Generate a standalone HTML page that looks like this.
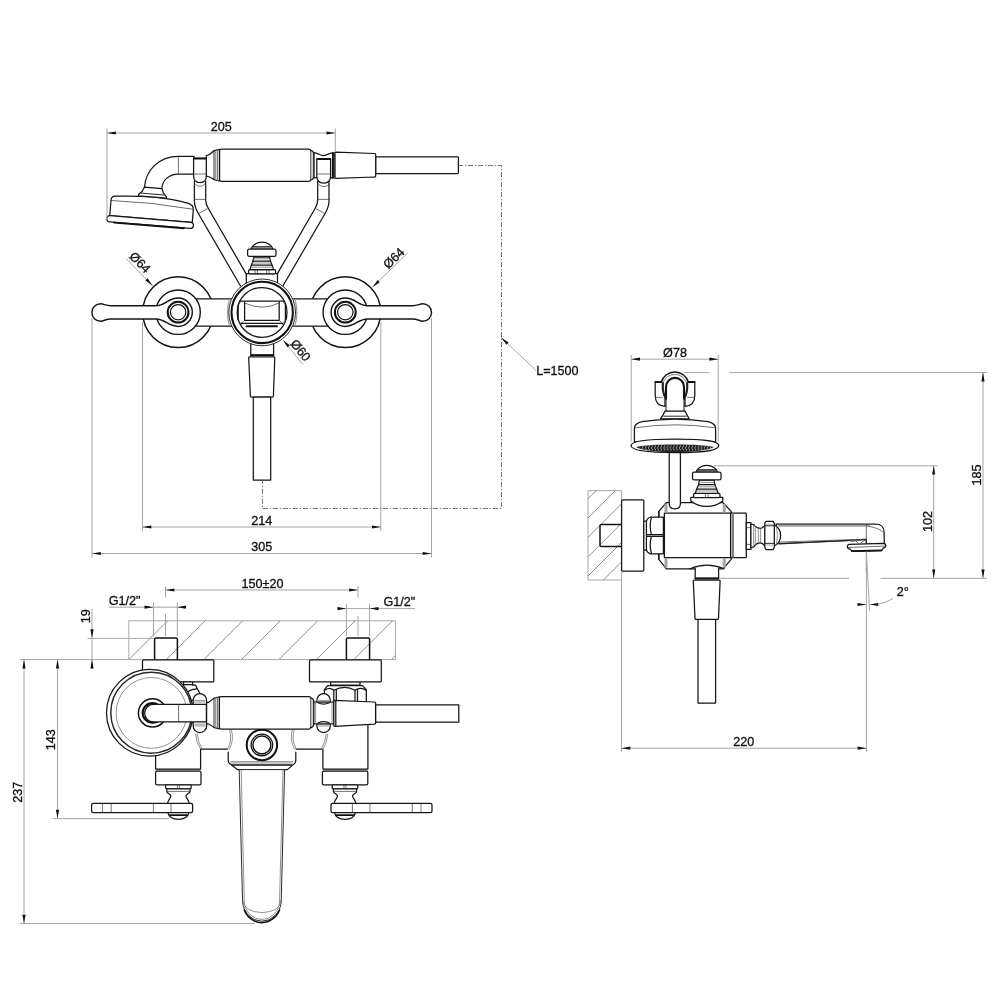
<!DOCTYPE html>
<html lang="en">
<head>
<meta charset="utf-8">
<title>Bath shower mixer - dimensional drawing</title>
<style>
html,body{margin:0;padding:0;background:#fff;}
body{width:1000px;height:1000px;overflow:hidden;font-family:"Liberation Sans",sans-serif;}
svg{display:block;position:absolute;left:0;top:0;will-change:transform;opacity:0.999;}
.k{fill:none;stroke:#151515;stroke-width:1.25;stroke-linejoin:round;stroke-linecap:round;}
.kw{fill:#fff;stroke:#151515;stroke-width:1.25;stroke-linejoin:round;stroke-linecap:round;}
.b{fill:none;stroke:#111;stroke-width:1.8;stroke-linejoin:round;stroke-linecap:round;}
.bw{fill:#fff;stroke:#111;stroke-width:1.8;stroke-linejoin:round;stroke-linecap:round;}
.t{fill:none;stroke:#333;stroke-width:0.7;stroke-linecap:round;}
.s{fill:none;stroke:#777;stroke-width:0.8;}
.g{fill:none;stroke:#a6a6a6;stroke-width:1;}
.h{fill:none;stroke:#727272;stroke-width:0.8;}
.hw{fill:none;stroke:#a8a8a8;stroke-width:1;}
.d{fill:none;stroke:#777;stroke-width:1;stroke-dasharray:5.2 1.7 1.4 1.7;}
.a{fill:#111;stroke:none;}
.w{fill:#fff;stroke:none;}
text{font-family:"Liberation Sans",sans-serif;font-size:12.6px;fill:#111;stroke:#111;stroke-width:0.32;}
</style>
</head>
<body>
<svg width="1000" height="1000" viewBox="0 0 1000 1000">
<rect class="w" x="0" y="0" width="1000" height="1000"/>
<!-- 10_viewA.svg -->
<g id="viewA">
 <!-- bracket arms (behind everything) -->
 <g id="armL">
  <path class="w" d="M194.4,181 V200.5 C194.4,206 196,209.5 198.2,213.2 L240.5,286 L247,276 L208.6,209 C206.6,205.6 205.7,203.6 205.7,200.5 V181 Z"/>
  <path class="k" d="M194.4,181 V200.5 C194.4,206 196,209.5 198.2,213.2 L240.5,286 M246.6,274.6 L208.6,209 C206.6,205.6 205.7,203.6 205.7,200.5 V181"/>
  <path class="t" d="M194.4,199.4 H205.7 M199.2,213.2 L207.2,208.8"/>
 </g>
 <g id="armR" transform="translate(523.4,0) scale(-1,1)">
  <path class="w" d="M194.4,181 V200.5 C194.4,206 196,209.5 198.2,213.2 L240.5,286 L247,276 L208.6,209 C206.6,205.6 205.7,203.6 205.7,200.5 V181 Z"/>
  <path class="k" d="M194.4,181 V200.5 C194.4,206 196,209.5 198.2,213.2 L240.5,286 M246.6,274.6 L208.6,209 C206.6,205.6 205.7,203.6 205.7,200.5 V181"/>
  <path class="t" d="M194.4,199.4 H205.7 M199.2,213.2 L207.2,208.8"/>
 </g>
 <!-- handset: hose, nut, handle, elbow -->
 <rect class="kw" x="375.6" y="156.8" width="82.8" height="16.8" rx="0.8"/>
 <path class="kw" d="M313.8,152.6 C318,152.8 320,155.6 323.2,155.6 C326.4,155.6 328.5,153.2 332.6,152.8 V177.8 C328.5,177.4 326.4,176 323.2,176 C320,176 318,177.8 313.8,178 Z"/>
 <path class="kw" d="M335.8,152.2 L374.6,153.5 Q375.7,153.6 375.7,154.6 V176 Q375.7,177 374.6,177 L335.8,178.3 Q335,178.3 335,177.4 V153.1 Q335,152.2 335.8,152.2 Z"/>
 <path class="k" d="M332.6,152.6 V178 M333.9,152.4 V178.2"/>
 <path class="kw" d="M206.3,155.6 C210.5,155.4 211.6,151.8 214.4,150.6 L219.5,149.3 V181 L214.4,179.8 C211.6,178.6 210.5,176.4 206.3,176.2 Z"/>
 <path class="k" d="M214,151 V179.6" style="stroke-width:0.9"/>
 <path class="s" d="M215.8,150.4 V180.2 M217.5,150 V180.6" style="stroke-width:1"/>
 <rect class="kw" x="219.6" y="149" width="91" height="32.3" rx="1.8" ry="1.8"/>
 <path class="kw" d="M310.6,150.4 Q313.8,151 313.8,154 V176.4 Q313.8,179.4 310.6,180"/>
 <path class="s" d="M311.9,151.2 V179.2"/>
 <!-- elbow -->
 <path class="kw" d="M144.4,188 C145.5,170 159,156.3 178.4,156.3 H194 V174 H178.4 C169,174 162.4,180 161.8,188.8 Z"/>
 <path class="t" d="M178.4,156.3 V174"/>
 <!-- shower head (tilted) -->
 <g transform="translate(153.2,187.5) rotate(4.7)">
  <path class="kw" d="M-37.2,11.8 Q-14,9.6 0,9.4 Q22,10 36.4,13 Q41.8,14.4 41.8,19 V31.6 H-41 V16.4 Q-41,12.2 -37.2,11.8 Z"/>
  <path class="t" d="M-41,16.4 Q0,14.6 41.8,18.4"/>
  <path class="kw" d="M-8.8,0.4 L-10.6,4.6 L-14,8.2 V9.5 H14 V8.2 L10.6,4.6 L8.8,0.4 Z"/>
  <path class="k" d="M-11.4,6.6 H11.4" style="stroke-width:0.9"/>
  <rect class="kw" x="-43.6" y="31.6" width="86.8" height="6.2" rx="3.1" ry="3.1"/>
  <path class="b" d="M-36,38.1 H34"/>
 </g>
 <!-- hooks -->
 <g id="hookL">
  <path class="kw" d="M193.6,158.2 H206.3 V176 C206.3,180.4 203.6,182.6 200,182.6 C196.2,182.6 193.6,180.4 193.6,176 Z"/>
  <path class="b" d="M194.4,158.6 H205.6"/>
  <path class="t" d="M193.6,174 H206.3 M195.6,184.4 Q200,188.6 204.6,184.4"/>
 </g>
 <g id="hookR">
  <path class="kw" d="M316.8,158.6 H330.6 V176 C330.6,180.8 327.6,183 323.7,183 C319.8,183 316.8,180.8 316.8,176 Z"/>
  <path class="b" d="M317.8,159 H329.8"/>
  <path class="t" d="M316.8,174 H330.6 M318.8,184.6 Q323.7,189 328.8,184.6"/>
 </g>
 <!-- diverter knob -->
 <g id="knobA">
  <rect class="kw" x="246.3" y="273.6" width="31.2" height="10"/>
  <rect class="kw" x="248.6" y="269.6" width="27" height="4.2" rx="1.2"/>
  <path class="t" d="M255,269.6 V273.8 M257.4,269.6 V273.8 M266.6,269.6 V273.8 M269,269.6 V273.8"/>
  <path class="kw" d="M253.8,257 H269.6 L270.4,261 L272,265 L273.6,269.6 H250 L251.4,265 L253,261 Z"/>
  <path class="k" d="M253,261 H270.4 M251.4,265 H272"/>
  <path class="s" d="M253.6,258.8 H269.8 M252.4,263 H271 M251,267.2 H272.6"/>
  <path class="kw" d="M251.2,249 C252,245.4 256.4,242.2 262,242.2 C267.6,242.2 272,245.4 272.8,249 Z"/>
  <path class="k" d="M252.6,246.8 H271.4" style="stroke-width:1.3"/><path class="s" d="M252,248 H272"/>
  <rect class="kw" x="247.6" y="249.1" width="28.4" height="7.3" rx="1.6"/>
 </g>
 <!-- side escutcheons -->
 <circle class="bw" cx="178.1" cy="312.2" r="35.4" style="stroke-width:1.5"/>
 <circle class="bw" cx="345.3" cy="312.2" r="35.4" style="stroke-width:1.5"/>
 <!-- body bars -->
 <rect class="kw" x="190" y="298.8" width="144" height="27.4"/>
 <!-- bottom stub, nut, hose -->
 <rect class="kw" x="250.8" y="340" width="22.8" height="15.2"/>
 <path class="b" d="M251,355.2 H273.4"/>
 <path class="kw" d="M249.6,356.8 H273.9 Q274.9,356.8 274.8,357.8 L273.4,396 Q273.3,397 272.4,397 H251.4 Q250.5,397 250.4,396 L248.7,357.8 Q248.6,356.8 249.6,356.8 Z"/>
 <rect class="kw" x="253.3" y="397" width="17.4" height="83"/>
 <!-- centre ring -->
 <path class="s" d="M229.4,299.4 Q225.6,312.4 229.4,325.6 M295,299.4 Q298.8,312.4 295,325.6" style="stroke-width:1.2;stroke:#999"/>
 <circle class="kw" cx="262.2" cy="312.4" r="33.4" style="stroke-width:0.9"/>
 <circle class="b" cx="262.2" cy="312.4" r="30.7" style="stroke-width:2.1"/>
 <circle class="k" cx="262.1" cy="312.4" r="24.9"/>
 <!-- spout seen through ring -->
 <g id="spoutA">
  <path class="k" d="M239.4,301.2 H284 M238.2,305 V320 M285.4,305 V320"/>
  <path class="t" d="M240.6,302 L238.2,305 M283,302 L285.4,305 M238.2,320 L241.6,325 M285.4,320 L282,325"/>
  <path class="k" d="M244.6,302 V320.4 H279.2 V302"/>
  <path class="t" d="M244.6,303 Q262,311.5 279.2,303"/>
  <path class="t" d="M244.6,320.4 L240.2,324 M279.2,320.4 L283.4,324"/>
  <path class="k" d="M241.4,323.4 H282.2"/>
  <path class="b" d="M246.5,326.2 H277" style="stroke-width:2"/>
 </g>
 <!-- middle circles of side valves -->
 <circle class="kw" cx="178.1" cy="312.2" r="22.2" style="stroke-width:1.4"/>
 <circle class="kw" cx="345.3" cy="312.2" r="22.2" style="stroke-width:1.4"/>
 <!-- levers -->
 <path id="leverL" class="kw" d="M111,305.7 H156 C165,305.7 168,298 178.1,298 A14.2,14.2 0 0 1 178.1,326.4 C168,326.4 165,318.9 156,318.9 H111 C105.5,318.9 104,321.2 100.6,321.2 A8.7,8.7 0 0 1 100.6,303.8 C104,303.8 105.5,305.7 111,305.7 Z" style="stroke-width:1.45"/>
 <path id="leverR" class="kw" transform="translate(523.4,0) scale(-1,1)" d="M111,305.7 H156 C165,305.7 168,298 178.1,298 A14.2,14.2 0 0 1 178.1,326.4 C168,326.4 165,318.9 156,318.9 H111 C105.5,318.9 104,321.2 100.6,321.2 A8.7,8.7 0 0 1 100.6,303.8 C104,303.8 105.5,305.7 111,305.7 Z" style="stroke-width:1.45"/>
 <circle class="b" cx="178.1" cy="312.2" r="10.4" style="stroke-width:2"/>
 <circle class="k" cx="178.1" cy="312.2" r="7.7"/>
 <circle class="b" cx="345.3" cy="312.2" r="10.4" style="stroke-width:2"/>
 <circle class="k" cx="345.3" cy="312.2" r="7.7"/>
</g>
<!-- 20_viewB.svg -->
<g id="viewB">
 <!-- wall hatch -->
 <g id="wallB">
  <path class="hw" d="M128.8,659.6 V620.8 H395.4 V659.6"/>
  <path class="h" d="M128.8,659.6 L167.6,620.8 M166.3,659.6 L205.1,620.8 M203.8,659.6 L242.6,620.8 M241.3,659.6 L280.1,620.8 M278.8,659.6 L317.6,620.8 M316.3,659.6 L355.1,620.8 M353.8,659.6 L392.6,620.8 M391.3,659.6 L395.4,655.5"/>
  <path class="g" d="M142.5,659.6 H395.4"/>
 </g>
 <!-- threaded stubs -->
 <path class="b" style="stroke-width:1.5" d="M154.6,659.6 V639.4 Q154.6,638 156,638 H176 Q177.4,638 177.4,639.4 V659.6"/>
 <path class="b" style="stroke-width:1.5" d="M346.4,659.6 V639.4 Q346.4,638 347.8,638 H368.2 Q369.6,638 369.6,639.4 V659.6"/>
 <!-- right valve body and nut -->
 <g id="valveBR">
  <rect class="kw" x="330.6" y="681.6" width="29.4" height="3.6"/>
  <path class="kw" d="M327.6,685.6 H362.4 L366.3,689.6 V703 H324.4 V689.6 Z"/>
  <path class="k" d="M324.4,690.6 Q329,686.2 333.8,690.2 Q345,684.6 355,690.2 Q361,686.2 366.3,690.6"/>
  <path class="k" d="M333.8,690.2 V703 M336.3,689.6 V703 M355,690.2 V703 M357.5,689.6 V703"/>
  <path class="kw" d="M322.9,750 V769 H367.9 V720 H322.9 Z" style="stroke:none"/>
  <path class="k" d="M367.9,724 V769 M322.9,750 V769 M322.9,769 H367.9"/>
  <path class="t" d="M323.6,769.9 H367.2"/>
  <rect class="kw" x="322.4" y="771.2" width="45.4" height="13.6" rx="1.4"/>
  <rect class="kw" x="332.2" y="784.8" width="25.6" height="4" rx="1"/>
  <path class="t" d="M344,784.8 V788.8 M346,784.8 V788.8"/>
  <path class="kw" d="M333.4,788.8 H356.6 V791.4 C356.6,793.6 352.6,794 352.6,796 C352.6,798.6 355.6,800 355.8,803.6 H334.2 C334.4,800 337.4,798.6 337.4,796 C337.4,794 333.4,793.6 333.4,791.4 Z"/>
  <path class="t" d="M333.6,791.4 H356.4"/>
  <path class="kw" d="M334.4,812.4 Q336,819.4 345,819.4 Q354,819.4 355.6,812.4 Z"/>
  <path class="b" d="M336.4,815.2 H353.6"/>
  <rect class="kw" x="331" y="803.4" width="101" height="9.2" rx="1.6"/>
  <path class="t" d="M352.4,803.6 V812.4 M370,803.6 V812.4 M412.2,803.6 V812.4 M421,803.6 V812.4"/>
 </g>
 <!-- left valve body and nut -->
 <g id="valveBL">
  <path class="kw" d="M155.6,720 V769 H200.6 V749.4 Z" style="stroke:none"/>
  <path class="k" d="M155.6,750 V769 H200.6 V749.4"/>
  <path class="t" d="M156.2,769.9 H200"/>
  <rect class="kw" x="155.6" y="771.2" width="45.4" height="13.6" rx="1.4"/>
  <rect class="kw" x="165.6" y="784.8" width="25.6" height="4" rx="1"/>
  <path class="t" d="M177.4,784.8 V788.8 M179.4,784.8 V788.8"/>
  <path class="kw" d="M166.8,788.8 H190 V791.4 C190,793.6 186,794 186,796 C186,798.6 189,800 189.2,803.6 H167.6 C167.8,800 170.8,798.6 170.8,796 C170.8,794 166.8,793.6 166.8,791.4 Z"/>
  <path class="t" d="M167,791.4 H189.8"/>
  <path class="kw" d="M167.8,812.4 Q169.4,819.4 178.4,819.4 Q187.4,819.4 189,812.4 Z"/>
  <path class="b" d="M169.8,815.2 H187"/>
  <rect class="kw" x="91.6" y="803.4" width="101" height="9.2" rx="1.6"/>
  <path class="t" d="M102.4,803.6 V812.4 M111.2,803.6 V812.4 M153.4,803.6 V812.4 M171,803.6 V812.4"/>
 </g>
 <!-- flanges -->
 <rect class="kw" x="142.5" y="659.9" width="71.3" height="22" rx="1"/>
 <rect class="kw" x="309.5" y="659.9" width="71.8" height="22" rx="1"/>
 <!-- centre body -->
 <g id="bodyB">
  <path class="kw" d="M201.2,729 V749.2 H228.2 V762 L237.4,769.6 H287.4 L295.8,762 V749.2 H322.9 V729 Z" style="stroke:none"/>
  <path class="k" d="M200.6,749.2 H227.6 M296.2,749.2 H322.9"/>
  <path class="k" d="M228.2,752 V760.6 Q228.2,762.4 229.6,763.6 L237.4,769.6 H287.4 L294.4,763.6 Q295.8,762.4 295.8,760.6 V752"/>
  <path class="b" d="M232,765 H291.6" style="stroke-width:1.4"/>
  <path class="s" d="M230.4,761.6 H293.4 M231,763 H292.8"/>
  <path class="s" d="M229.6,730 Q232.6,740 227.6,749.2 M231.4,730 Q234.4,740 229.2,749.4"/>
  <path class="s" d="M294.2,730 Q291.2,740 296.2,749.2 M292.4,730 Q289.4,740 294.6,749.4"/>
  <path class="s" d="M195.6,733.6 Q196,742 200.6,749.2 M197.2,733.6 Q197.6,741.6 202,748.6"/>
  <path class="s" d="M327.8,733.6 Q327.4,742 322.9,749.2 M326.2,733.6 Q325.8,741.6 321.4,748.6"/>
 </g>
 <!-- spout -->
 <g id="spoutB">
  <path class="kw" d="M239.6,769.6 H284.6 L281.2,902 A19.4,21.4 0 0 1 242.6,902 Z" style="stroke:#2a2a2a;stroke-width:1"/>
  <path class="b" d="M244.2,910 A19.4,21.4 0 0 0 279.6,910" style="stroke-width:1.5"/>
  <path class="s" d="M241.2,770 L244.3,902 A17.7,19.6 0 0 0 279.5,902 L283,770"/>
  <path class="s" d="M242.8,900 Q244,912 262,912.6 Q280,912 281,900"/>
 </g>
 <!-- diverter (top) -->
 <circle class="bw" cx="261.9" cy="745" r="15.2" style="stroke-width:2"/>
 <circle class="k" cx="261.9" cy="745" r="10.8"/>
 <circle class="b" cx="261.9" cy="745" r="9" style="stroke-width:1.4"/>
 <!-- left hex nut (mostly hidden) -->
 <path class="kw" d="M183.6,681.8 H192.6 V685 H195.6 L197.2,688.8 L200,693.4 V700 H183.6 Z"/>
 <path class="k" d="M183.6,684.6 H192.6 M188.2,691.6 Q192,688.6 197.2,688.8"/>
 <!-- shower head seen from above -->
 <circle class="kw" cx="149.8" cy="712.7" r="43.3"/>
 <circle class="b" cx="151.3" cy="712.7" r="40.5" style="stroke-width:1.5;stroke:#2a2a2a"/>
 <circle class="s" cx="151.5" cy="712.9" r="35.4"/>
 <circle class="b" cx="152.5" cy="712.9" r="14.1" style="stroke-width:1.5"/>
 <circle class="b" cx="152.5" cy="712.9" r="9.8" style="stroke-width:2.2"/>
 <!-- hooks (top view) -->
 <rect class="kw" x="193.2" y="693.6" width="13.4" height="39" rx="6.7"/>
 <path class="s" d="M194.6,700.4 H205.4 M194.2,702 H205.8 M194.2,724.2 H205.8 M194.6,726 H205.4"/>
 <rect class="kw" x="316.9" y="693.6" width="13.4" height="39" rx="6.7"/>
 <path class="s" d="M318.2,700.4 H329 M317.8,702 H329.4 M317.8,724.2 H329.4 M318.2,726 H329"/>
 <!-- elbow tube (top) -->
 <path class="kw" d="M206.4,704.4 H153.4 A8.75,8.75 0 0 0 153.4,721.9 H206.4 Z"/>
 <path class="t" d="M178.6,704.4 V721.9"/>
 <!-- handle -->
 <path class="kw" d="M206.6,702.8 C210.5,702.6 211.6,699.2 214.4,698 L219.5,696.8 V728.8 L214.4,727.6 C211.6,726.4 210.5,723.8 206.6,723.6 Z"/>
 <path class="k" d="M214,698.4 V727.4" style="stroke-width:0.9"/>
 <path class="s" d="M215.8,697.8 V728 M217.5,697.4 V728.4" style="stroke-width:1"/>
 <rect class="kw" x="219.4" y="696.5" width="91.2" height="32.5" rx="1.8" ry="1.8"/>
 <path class="kw" d="M310.6,697.9 Q313.8,698.5 313.8,701.5 V724 Q313.8,727 310.6,727.6"/>
 <path class="s" d="M311.9,698.8 V726.8"/>
 <path class="kw" d="M313.8,702 H333.8 V723.8 H313.8 Z"/>
 <path class="s" d="M315.6,702 V723.8 M332,702 V723.8"/>
 <rect class="w" x="317.6" y="703" width="12" height="20"/>
 <path class="k" d="M318,702.8 Q323.6,705.6 329.4,702.8 M318,723 Q323.6,720.4 329.4,723"/>
 <!-- hose nut and hose -->
 <rect class="kw" x="375.5" y="704.8" width="83.3" height="17.2"/>
 <path class="kw" d="M334.6,700.4 L374.6,702 Q375.6,702 375.6,703 V723 Q375.6,724 374.6,724.1 L334.6,726.3 Q333.8,726.3 333.8,725.4 V701.2 Q333.8,700.4 334.6,700.4 Z"/>
 <path class="k" d="M335.8,700.6 V726.2"/>
</g>
<!-- 30_viewC.svg -->
<g id="viewC">
 <!-- wall hatch -->
 <g id="wallC">
  <path class="hw" d="M621.6,490.7 H588 V580 H621.6"/>
  <path class="h" d="M588,498.8 L596.1,490.7 M588,518 L615.3,490.7 M588,537.4 L621.6,503.8 M588,556.8 L621.6,523.2 M588,576 L621.6,542.4 M603.4,580 L621.6,561.8"/>
  <path class="g" d="M621.6,490.7 V580"/>
 </g>
 <path class="b" style="stroke-width:1.5" d="M621.4,524.4 H601.4 Q600,524.4 600,525.8 V545.2 Q600,546.6 601.4,546.6 H621.4"/>
 <rect class="kw" x="621.6" y="499.8" width="22.2" height="71.2" rx="1"/>
 <!-- hose below -->
 <rect class="kw" x="698" y="619.4" width="17.6" height="83.6"/>
 <path class="kw" d="M694.2,580.2 H719.2 Q720.2,580.2 720.1,581.2 L718.5,618.4 Q718.4,619.4 717.5,619.4 H696 Q695.1,619.4 695,618.4 L693.3,581.2 Q693.2,580.2 694.2,580.2 Z"/>
 <rect class="kw" x="695.2" y="566" width="23.4" height="12.4"/>
 <path class="b" d="M695.6,578.6 H718.2" style="stroke-width:2"/>
 <!-- body -->
 <path class="kw" d="M658.8,511.4 L666.4,502.6 H723 L731.2,511.4 V559.4 L723,568.8 H666.4 L658.8,559.4 Z"/>
 <!-- hex nut -->
 <rect class="kw" x="643.8" y="521" width="3" height="29"/>
 <path class="kw" d="M650.6,517 H663.4 V553.8 H650.6 Q646.4,552.4 646.4,548.4 V522.4 Q646.4,518.4 650.6,517 Z"/>
 <path class="k" d="M651.4,517.4 Q649,526 651.4,534.6 M651.4,536.4 Q649,545 651.4,553.4 M646.6,534.6 H663.4 M646.6,536.4 H663.4"/>
 <path class="kw" d="M664.4,513 H730.6 V557.6 H664.4 Z"/>
 <path class="s" d="M666,504 V512.6 M666,558 V567.6 M724.2,504 V512.6 M724.2,558 V567.6" style="stroke:#a4a4a4;stroke-width:3"/>
 <path class="k" d="M658.8,511.4 V517 M658.8,554 V559.4"/>
 <path class="w" d="M696,566 Q707,560.6 718,566 V570 H696 Z"/>
 <path class="k" d="M690,568.8 Q707,561.4 724,568.8"/>
 <!-- right flange and connector -->
 <rect class="kw" x="730.6" y="513" width="15.7" height="44.7" rx="0.8"/>
 <path class="s" d="M732.2,513.4 V557.4 M733.4,513.4 V557.4" style="stroke-width:1.1"/>
 <!-- spout -->
 <g id="spoutC">
  <path class="kw" d="M776,524 H875.6 Q883.6,524.2 884,531.6 L884.4,544 H866.3 V539.4 L779,543.8 Z"/>
  <path class="s" d="M778,526.2 H866.3 M778,525.2 H870"/>
  <path class="t" d="M779.4,543.4 L848,540.8" style="stroke:#222;stroke-width:0.9"/><path class="s" d="M779.4,542 L866.3,539.2" style="stroke:#555"/>
  <path class="t" d="M866.3,525 V544 M867,526 Q877,527.4 882.4,531.4 M851,541.4 L866,539.6 L860.6,543 M856,541 L858.4,543.4"/>
  <g transform="rotate(-1.6 866.4 547)"><path class="kw" d="M849.4,543.8 H883.4 Q885.8,544 885.8,546 Q885.8,548 883.4,548.4 L881.4,551 H852 L850,548.6 Q847.4,548.4 847.4,546.2 Q847.4,544 849.4,543.8 Z"/>
  <path class="b" d="M852,550.8 H881.4"/>
  <path class="t" d="M848.6,547 L884.6,546.6"/></g>
 </g>
 <g id="connC">
  <rect class="kw" x="746.3" y="522.6" width="4.6" height="26.8"/>
  <path class="t" d="M746.3,527.6 H750.9 M746.3,544.4 H750.9"/>
  <path class="kw" d="M750.9,524.4 H753.6 L755.4,526.4 C757,528 759,528.4 760.6,528.4 C762.6,528.4 763.6,526.6 765,525.4 V546 C763.6,544.8 762.6,543 760.6,542.8 C759,542.8 757,543.2 755.4,544.8 L753.6,547 H750.9 Z"/>
  <path class="s" d="M753.6,524.6 V546.8 M755.4,526.4 V544.8 M758.4,528.2 V543 M760.6,528.4 V542.8"/>
  <path class="kw" d="M774,525 Q780.6,528 780.6,535.4 Q780.6,543 774,546 Z"/>
  <path class="s" d="M776.4,526.6 Q778.6,535 776.4,544.6"/>
  <path class="kw" d="M766,521.3 H773.2 L774.3,523.4 V547.4 L773.2,549.5 H766 L764.8,547.4 V523.4 Z"/>
  <path class="k" d="M764.8,525.8 H774.3 M764.8,543.4 H774.3" style="stroke-width:0.9"/>
  <path class="s" d="M765.6,524.4 H773.6 M765.6,545 H773.6" style="stroke:#999"/>
 </g>
 <path class="t" d="M866.3,552 V572" style="stroke:#444;stroke-dasharray:5 1.5 1.5 1.5"/>
 <!-- bracket rod -->
 <path class="kw" d="M669.2,440 V503.4 Q669.2,508.8 674.8,508.8 Q680.4,508.8 680.4,503.4 V440 Z"/>
 <!-- diverter knob -->
 <g id="knobC">
  <path class="kw" d="M690.8,497.4 H722.8 V501 Q716,506.4 706.8,506.4 Q697.6,506.4 690.8,501 Z"/>
  <rect class="kw" x="693.6" y="493.4" width="26.4" height="4.2" rx="1.2"/>
  <path class="t" d="M705.4,493.4 V497.6 M708,493.4 V497.6"/>
  <path class="kw" d="M699.4,480 H714 L714.8,484.6 L716.6,489 L718.2,493.4 H695.2 L696.8,489 L698.6,484.6 Z"/>
  <path class="k" d="M698.6,484.6 H714.8 M696.8,489 H716.6"/>
  <path class="s" d="M699,482.4 H714.4 M697.8,486.8 H715.6 M696.4,491 H717.2"/>
  <path class="kw" d="M696,472.2 C696.8,468.6 701.2,465.4 706.8,465.4 C712.4,465.4 716.8,468.6 717.6,472.2 Z"/>
  <path class="k" d="M697.4,470 H716.2" style="stroke-width:1.3"/><path class="s" d="M696.8,471.2 H716.8"/>
  <rect class="kw" x="692.5" y="472" width="28.5" height="7.8" rx="1.6"/>
 </g>
 <!-- shower head (front) -->
 <g id="headC">
  <path class="kw" d="M655.2,381.8 H665 V406.4 Q655.2,405.4 655.2,395.4 Z"/>
  <path class="kw" d="M694.8,381.8 H685 V406.4 Q694.8,405.4 694.8,395.4 Z"/>
  <path class="b" d="M655.4,382 H661.6 M688.4,382 H694.6" style="stroke-width:1.9"/>
  <path class="t" d="M655.4,397.4 H662.4 M687.6,397.4 H694.6"/>
  <path class="w" d="M661.4,382 A14.1,14.1 0 0 1 688.2,382 L685,399 H665 Z"/>
  <path class="b" d="M661.3,382 A14.1,14.1 0 0 1 688.3,382" style="stroke-width:1.5"/>
  <path class="s" d="M663,382.8 A12.5,12.5 0 0 1 686.6,382.8" style="stroke:#666;stroke-width:0.9"/>
  <path class="b" d="M662.8,383 C662.4,390 663.8,395.4 666,398.6 M687.2,383 C687.6,390 686.2,395.4 684,398.6" style="stroke-width:2.2;stroke:#222"/>
  <path class="kw" d="M666,411 V398 H684 V411 Z" style="stroke-width:1"/>
  <path class="bw" d="M666,398.6 V386.9 A9,9 0 0 1 684,386.9 V398.6" style="stroke-width:2.1"/>
  <rect class="w" x="667" y="397" width="16" height="13.4"/>
  <path class="kw" d="M665,411 H685 L686.8,414.6 L689.2,418.8 H660.6 L663.2,414.6 Z"/>
  <path class="k" d="M663.8,416.2 H686.2" style="stroke-width:0.9"/>
  <path class="kw" d="M634.4,441.6 V428.4 Q634.4,423.4 642,421.6 Q658,419 675,419 Q692,419 708,421.6 Q715.6,423.4 715.6,428.4 V441.6 Z"/>
  <path class="t" d="M634.6,427.8 Q675,421.8 715.4,427.8"/>
  <path class="kw" d="M631,445.6 C631,441.8 640,439 675,439 C710,439 718.8,441.8 718.8,445.6 C718.8,449.6 710,452.6 675,452.6 C640,452.6 631,449.6 631,445.6 Z"/>
  <path d="M636,447 C642,445.2 655,444.4 675,444.4 C695,444.4 708,445.2 714,447 C708,450.4 695,452 675,452 C655,452 642,450.4 636,447 Z" fill="#222" stroke="none"/>
  <g fill="#f4f4f4" stroke="none">
   <circle cx="642.3" cy="447.9" r="0.55"/><circle cx="643.1" cy="446.0" r="0.55"/><circle cx="645.4" cy="447.9" r="0.55"/><circle cx="646.2" cy="446.0" r="0.55"/><circle cx="646.2" cy="449.8" r="0.55"/><circle cx="648.5" cy="447.9" r="0.55"/><circle cx="649.3" cy="446.0" r="0.55"/><circle cx="649.3" cy="449.8" r="0.55"/><circle cx="651.6" cy="447.9" r="0.55"/><circle cx="652.4" cy="446.0" r="0.55"/><circle cx="652.4" cy="449.8" r="0.55"/><circle cx="654.7" cy="447.9" r="0.55"/><circle cx="655.5" cy="446.0" r="0.55"/><circle cx="655.5" cy="449.8" r="0.55"/><circle cx="657.8" cy="447.9" r="0.55"/><circle cx="658.6" cy="446.0" r="0.55"/><circle cx="658.6" cy="449.8" r="0.55"/><circle cx="660.9" cy="447.9" r="0.55"/><circle cx="661.7" cy="446.0" r="0.55"/><circle cx="661.7" cy="449.8" r="0.55"/><circle cx="664.0" cy="447.9" r="0.55"/><circle cx="664.8" cy="446.0" r="0.55"/><circle cx="664.8" cy="449.8" r="0.55"/><circle cx="667.1" cy="447.9" r="0.55"/><circle cx="667.9" cy="446.0" r="0.55"/><circle cx="667.9" cy="449.8" r="0.55"/><circle cx="670.2" cy="447.9" r="0.55"/><circle cx="671.0" cy="446.0" r="0.55"/><circle cx="671.0" cy="449.8" r="0.55"/><circle cx="673.3" cy="447.9" r="0.55"/><circle cx="674.1" cy="446.0" r="0.55"/><circle cx="674.1" cy="449.8" r="0.55"/><circle cx="676.4" cy="447.9" r="0.55"/><circle cx="677.2" cy="446.0" r="0.55"/><circle cx="677.2" cy="449.8" r="0.55"/><circle cx="679.5" cy="447.9" r="0.55"/><circle cx="680.3" cy="446.0" r="0.55"/><circle cx="680.3" cy="449.8" r="0.55"/><circle cx="682.6" cy="447.9" r="0.55"/><circle cx="683.4" cy="446.0" r="0.55"/><circle cx="683.4" cy="449.8" r="0.55"/><circle cx="685.7" cy="447.9" r="0.55"/><circle cx="686.5" cy="446.0" r="0.55"/><circle cx="686.5" cy="449.8" r="0.55"/><circle cx="688.8" cy="447.9" r="0.55"/><circle cx="689.6" cy="446.0" r="0.55"/><circle cx="689.6" cy="449.8" r="0.55"/><circle cx="691.9" cy="447.9" r="0.55"/><circle cx="692.7" cy="446.0" r="0.55"/><circle cx="692.7" cy="449.8" r="0.55"/><circle cx="695.0" cy="447.9" r="0.55"/><circle cx="695.8" cy="446.0" r="0.55"/><circle cx="695.8" cy="449.8" r="0.55"/><circle cx="698.1" cy="447.9" r="0.55"/><circle cx="698.9" cy="446.0" r="0.55"/><circle cx="698.9" cy="449.8" r="0.55"/><circle cx="701.2" cy="447.9" r="0.55"/><circle cx="702.0" cy="446.0" r="0.55"/><circle cx="702.0" cy="449.8" r="0.55"/><circle cx="704.3" cy="447.9" r="0.55"/><circle cx="705.1" cy="446.0" r="0.55"/><circle cx="705.1" cy="449.8" r="0.55"/><circle cx="707.4" cy="447.9" r="0.55"/><circle cx="708.2" cy="446.0" r="0.55"/><circle cx="710.5" cy="447.9" r="0.55"/>
  </g>
 </g>
</g>
<!-- 90_dims.svg -->
<g id="dims">
<line class="g" x1="107" y1="128.5" x2="107" y2="220"/>
<line class="g" x1="335.3" y1="128.5" x2="335.3" y2="152"/>
<line class="g" x1="107" y1="133" x2="335.3" y2="133"/>
<polygon class="a" points="107.00,133.00 115.80,131.40 115.80,134.60"/>
<polygon class="a" points="335.30,133.00 326.50,134.60 326.50,131.40"/>
<text x="221.3" y="130.7" text-anchor="middle">205</text>
<line class="g" x1="142.5" y1="322" x2="142.5" y2="531"/>
<line class="g" x1="380.8" y1="322" x2="380.8" y2="531"/>
<line class="g" x1="142.5" y1="527" x2="380.8" y2="527"/>
<polygon class="a" points="142.50,527.00 151.30,525.40 151.30,528.60"/>
<polygon class="a" points="380.80,527.00 372.00,528.60 372.00,525.40"/>
<text x="261.7" y="524.6" text-anchor="middle">214</text>
<line class="g" x1="92" y1="318" x2="92" y2="557.5"/>
<line class="g" x1="431.5" y1="318" x2="431.5" y2="557.5"/>
<line class="g" x1="92" y1="553.5" x2="431.5" y2="553.5"/>
<polygon class="a" points="92.00,553.50 100.80,551.90 100.80,555.10"/>
<polygon class="a" points="431.50,553.50 422.70,555.10 422.70,551.90"/>
<text x="261.7" y="550.8" text-anchor="middle">305</text>
<line class="g" x1="126.2" y1="258.7" x2="152.6" y2="285.7"/>
<polygon class="a" points="152.60,285.70 145.30,280.53 147.59,278.29"/>
<text x="128.6" y="257.0" text-anchor="start" transform="rotate(45.6 128.6 257.0)">Ø64</text>
<line class="g" x1="407.6" y1="253" x2="372.4" y2="287.2"/>
<polygon class="a" points="372.40,287.20 377.59,279.92 379.82,282.21"/>
<text x="388.2" y="269.6" text-anchor="start" transform="rotate(-44.2 388.2 269.6)">Ø64</text>
<line class="g" x1="283.2" y1="340.2" x2="302.7" y2="364.4"/>
<polygon class="a" points="283.00,340.00 289.81,345.17 287.43,347.31"/>
<text x="289.7" y="343.9" text-anchor="start" transform="rotate(50.6 289.7 343.9)">Ø60</text>
<path class="d" d="M458.8,165.5 H501.5 V508.5 H262.5 V481" stroke-dashoffset="0.8"/>
<line class="g" x1="501.2" y1="337.6" x2="536" y2="370.4"/>
<polygon class="a" points="501.20,337.60 508.70,342.47 506.51,344.80"/>
<text x="536.2" y="374.8" text-anchor="start">L=1500</text>
<line class="g" x1="165.5" y1="586" x2="165.5" y2="597.5"/>
<line class="g" x1="358" y1="586" x2="358" y2="597.5"/>
<line class="g" x1="165.5" y1="590" x2="358" y2="590"/>
<polygon class="a" points="165.50,590.00 174.30,588.40 174.30,591.60"/>
<polygon class="a" points="358.00,590.00 349.20,591.60 349.20,588.40"/>
<text x="262.5" y="587.9" text-anchor="middle">150±20</text>
<line class="g" x1="165.5" y1="614" x2="165.5" y2="636.5"/>
<line class="g" x1="358" y1="616" x2="358" y2="636"/>
<line class="g" x1="109" y1="607.2" x2="186" y2="607.2"/>
<polygon class="a" points="153.30,607.20 144.50,608.80 144.50,605.60"/>
<polygon class="a" points="177.20,607.20 186.00,605.60 186.00,608.80"/>
<line class="g" x1="153.5" y1="602.5" x2="153.5" y2="636.5"/>
<line class="g" x1="177.3" y1="602.5" x2="177.3" y2="636.5"/>
<text x="108.8" y="604.8" text-anchor="start">G1/2"</text>
<line class="g" x1="337" y1="608.6" x2="415" y2="608.6"/>
<polygon class="a" points="346.30,608.60 337.50,610.20 337.50,607.00"/>
<polygon class="a" points="369.70,608.60 378.50,607.00 378.50,610.20"/>
<line class="g" x1="346.4" y1="604" x2="346.4" y2="636.5"/>
<line class="g" x1="369.6" y1="604" x2="369.6" y2="636.5"/>
<text x="383.5" y="606.4" text-anchor="start">G1/2"</text>
<line class="g" x1="92" y1="609" x2="92" y2="669"/>
<polygon class="a" points="92.00,638.00 90.40,629.20 93.60,629.20"/>
<polygon class="a" points="92.00,659.60 93.60,668.40 90.40,668.40"/>
<line class="g" x1="87.5" y1="638.4" x2="154" y2="638.4"/>
<text x="90.2" y="616.2" text-anchor="middle" transform="rotate(-90 90.2 616.2)">19</text>
<line class="g" x1="20" y1="659.6" x2="142.5" y2="659.6"/>
<line class="g" x1="57.5" y1="659.6" x2="57.5" y2="818.6"/>
<polygon class="a" points="57.50,659.60 59.10,668.40 55.90,668.40"/>
<polygon class="a" points="57.50,818.60 55.90,809.80 59.10,809.80"/>
<text x="55.4" y="739.8" text-anchor="middle" transform="rotate(-90 55.4 739.8)">143</text>
<line class="g" x1="53" y1="818.6" x2="169" y2="818.6"/>
<line class="g" x1="24" y1="659.6" x2="24" y2="923.6"/>
<polygon class="a" points="24.00,659.60 25.60,668.40 22.40,668.40"/>
<polygon class="a" points="24.00,923.60 22.40,914.80 25.60,914.80"/>
<text x="21.6" y="792.2" text-anchor="middle" transform="rotate(-90 21.6 792.2)">237</text>
<line class="g" x1="20" y1="923.6" x2="255" y2="923.6"/>
<line class="g" x1="631.2" y1="355" x2="631.2" y2="441.6"/>
<line class="g" x1="718.2" y1="355" x2="718.2" y2="441.6"/>
<line class="g" x1="631.2" y1="359.2" x2="718.2" y2="359.2"/>
<polygon class="a" points="631.20,359.20 640.00,357.60 640.00,360.80"/>
<polygon class="a" points="718.20,359.20 709.40,360.80 709.40,357.60"/>
<text x="675" y="356.6" text-anchor="middle">Ø78</text>
<line class="g" x1="684" y1="372.6" x2="709.5" y2="372.6"/>
<line class="g" x1="729" y1="372.6" x2="987" y2="372.6"/>
<line class="g" x1="983" y1="372.6" x2="983" y2="578.3"/>
<polygon class="a" points="983.00,372.60 984.60,381.40 981.40,381.40"/>
<polygon class="a" points="983.00,578.30 981.40,569.50 984.60,569.50"/>
<text x="981" y="475" text-anchor="middle" transform="rotate(-90 981 475)">185</text>
<line class="g" x1="714" y1="465.8" x2="937.5" y2="465.8"/>
<line class="g" x1="933.7" y1="465.8" x2="933.7" y2="578.3"/>
<polygon class="a" points="933.70,465.80 935.30,474.60 932.10,474.60"/>
<polygon class="a" points="933.70,578.30 932.10,569.50 935.30,569.50"/>
<text x="931.8" y="521.5" text-anchor="middle" transform="rotate(-90 931.8 521.5)">102</text>
<line class="g" x1="720" y1="578.3" x2="849" y2="578.3"/>
<line class="g" x1="880.6" y1="578.3" x2="987" y2="578.3"/>
<line class="g" x1="621.5" y1="580" x2="621.5" y2="752"/>
<line class="g" x1="866.4" y1="552" x2="866.4" y2="752"/>
<line class="g" x1="621.5" y1="748.2" x2="866.4" y2="748.2"/>
<polygon class="a" points="621.50,748.20 630.30,746.60 630.30,749.80"/>
<polygon class="a" points="866.40,748.20 857.60,749.80 857.60,746.60"/>
<text x="743.8" y="745.6" text-anchor="middle">220</text>
<line class="g" x1="866.4" y1="551.5" x2="869.6" y2="611"/>
<line class="g" x1="857.5" y1="604.4" x2="866.4" y2="604.4"/>
<polygon class="a" points="866.50,604.40 857.50,605.90 857.50,602.90"/>
<polygon class="a" points="869.30,604.40 878.30,602.90 878.30,605.90"/>
<path class="g" d="M878.3,604.2 Q886,602.6 893,598.6"/>
<text x="896.8" y="596.4" text-anchor="start">2°</text>
</g>
</svg>
</body>
</html>
